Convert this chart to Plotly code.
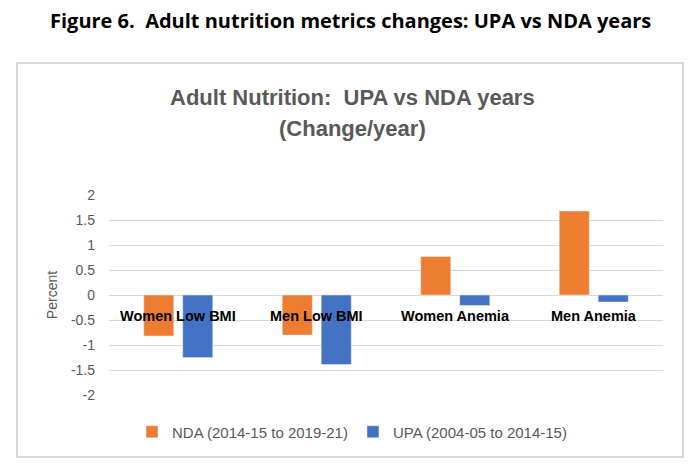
import plotly.graph_objects as go

categories = ["Women Low BMI", "Men Low BMI", "Women Anemia", "Men Anemia"]
nda_values = [-0.82, -0.80, 0.77, 1.68]
upa_values = [-1.25, -1.39, -0.21, -0.14]
nda_name = "NDA (2014-15 to 2019-21)"
upa_name = "UPA (2004-05 to 2014-15)"
y_ticks = [2, 1.5, 1, 0.5, 0, -0.5, -1, -1.5, -2]
y_tick_labels = ["2", "1.5", "1", "0.5", "0", "-0.5", "-1", "-1.5", "-2"]

# page body has an 8px margin; compensate
OFF = 8
W, H = 692, 458
L, T = 109 - OFF, 195 - OFF
R = W - (663 - OFF)
B = H - (395 - OFF)
pw, ph = W - L - R, H - T - B

def px(x):
    return (x - OFF - L) / pw

def py(y):
    return (H - B - (y - OFF)) / ph

fig = go.Figure()
fig.add_trace(go.Bar(x=categories, y=nda_values, name=nda_name, marker_color="#ED7D31"))
fig.add_trace(go.Bar(x=categories, y=upa_values, name=upa_name, marker_color="#4472C4"))

fig.update_layout(
    width=W, height=H,
    margin=dict(l=L, r=R, t=T, b=B, pad=0),
    paper_bgcolor="white", plot_bgcolor="white",
    barmode="group", bargap=0.437, bargroupgap=0.23,
    font=dict(family="Liberation Sans, Arial, sans-serif", color="#595959", size=14),
    showlegend=True,
    legend=dict(orientation="h", x=px(352), xanchor="center", y=py(432), yanchor="middle",
                font=dict(size=15, color="#595959"), itemwidth=30, traceorder="normal"),
    xaxis=dict(showticklabels=False, showgrid=False, zeroline=False, showline=False, ticks=""),
    yaxis=dict(range=[-2, 2], tickvals=y_ticks, ticktext=y_tick_labels, showgrid=True,
               gridcolor="#d9d9d9", gridwidth=1, zeroline=True, zerolinecolor="#d9d9d9",
               zerolinewidth=1, showline=False, ticks="", ticklabelstandoff=13,
               tickfont=dict(size=14, color="#595959"),
               title=dict(text="Percent", font=dict(size=14, color="#595959"), standoff=9)),
)

for c in categories:
    fig.add_annotation(x=c, y=0, xref="x", yref="y", text="<b>" + c + "</b>", showarrow=False,
                       yshift=-21, font=dict(size=14.5, color="black", family="Liberation Sans, Arial, sans-serif"))

fig.add_annotation(x=px(352), y=py(97), xref="paper", yref="paper", showarrow=False,
                   text="<b>Adult Nutrition:  UPA vs NDA years</b>", xanchor="center", yanchor="middle",
                   font=dict(size=22, color="#595959", family="Liberation Sans, sans-serif"))
fig.add_annotation(x=px(352), y=py(128), xref="paper", yref="paper", showarrow=False,
                   text="<b>(Change/year)</b>", xanchor="center", yanchor="middle",
                   font=dict(size=22, color="#595959", family="Liberation Sans, sans-serif"))
fig.add_annotation(x=px(350), y=py(21), xref="paper", yref="paper", showarrow=False,
                   text="<b>Figure 6.  Adult nutrition metrics changes: UPA vs NDA years</b>",
                   xanchor="center", yanchor="middle",
                   font=dict(size=20, color="black", family="Open Sans, sans-serif"))

fig.add_shape(type="rect", xref="paper", yref="paper", x0=px(17), x1=px(683), y0=py(457), y1=py(63),
              line=dict(color="#d9d9d9", width=2), fillcolor="rgba(0,0,0,0)", layer="below")

fig.write_html("out.html")
